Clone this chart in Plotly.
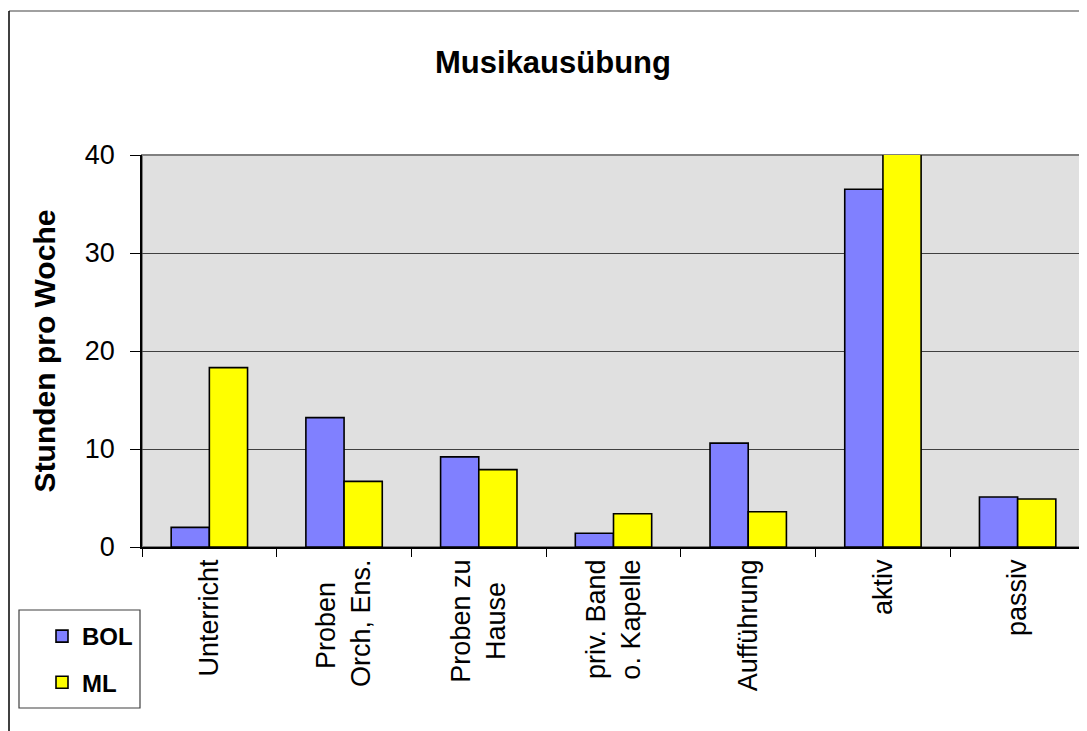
import plotly.graph_objects as go

categories = ["Unterricht", "Proben<br>Orch, Ens.", "Proben zu<br>Hause",
              "priv. Band<br>o. Kapelle", "Aufführung", "aktiv", "passiv"]
bol_values = [2.0, 13.2, 9.2, 1.4, 10.6, 36.5, 5.1]
ml_values = [18.3, 6.7, 7.9, 3.4, 3.6, 40.2, 4.9]
y_ticks = [0, 10, 20, 30, 40]

FONT = "Arial, Liberation Sans, sans-serif"

# The page body has an 8px margin; lay out in page coordinates.
OFF = 8
W, H = 1087 - OFF, 731 - OFF
ML_, MR, MT, MB = 142 - OFF, 2, 155 - OFF, 184
PW, PH = W - ML_ - MR, H - MT - MB


def px(x):
    """page x -> paper x"""
    return (x - OFF - ML_) / PW


def py(y):
    """page y -> paper y"""
    return (H - MB - (y - OFF)) / PH


# centre the shorter line of two-line rotated labels (labels anchor at their end)
line_pad = {"Proben": 3, "Hause": 3}


def centred(label):
    lines = label.split("<br>")
    return "<br>".join(l + "\u00a0" * line_pad.get(l, 0) for l in lines)


tick_text = [centred(c) for c in categories]

fig = go.Figure()
fig.add_trace(go.Bar(name="<b>BOL</b>", x=categories, y=bol_values, legendgroup="a",
                     marker=dict(color="#8080FF", line=dict(color="#000000", width=1.6)),
                     cliponaxis=False))
fig.add_trace(go.Bar(name="<b>ML</b>", x=categories, y=ml_values, legendgroup="b",
                     marker=dict(color="#FFFF00", line=dict(color="#000000", width=1.6)),
                     cliponaxis=False))

shapes = [
    dict(type="rect", xref="paper", yref="paper", x0=0, x1=1, y0=0, y1=1,
         line=dict(color="#808080", width=2), layer="below"),
    dict(type="line", xref="paper", yref="paper", x0=px(9), x1=px(1095), y0=py(11), y1=py(11),
         line=dict(color="#808080", width=1.5)),
    dict(type="line", xref="paper", yref="paper", x0=px(9), x1=px(9), y0=py(11), y1=py(740),
         line=dict(color="#000000", width=1.5)),
    dict(type="rect", xref="paper", yref="paper", x0=px(19), x1=px(140), y0=py(708), y1=py(610),
         line=dict(color="#404040", width=1.2), fillcolor="rgba(0,0,0,0)"),
]

fig.update_layout(
    width=W, height=H,
    margin=dict(l=ML_, r=MR, t=MT, b=MB, pad=0),
    paper_bgcolor="#FFFFFF",
    plot_bgcolor="#E0E0E0",
    barmode="group",
    bargap=0.433,
    bargroupgap=0,
    font=dict(family=FONT, color="#000000"),
    title=dict(text="<b>Musikausübung</b>", x=(553 - OFF) / W, xanchor="center",
               y=1 - (62 - OFF) / H, yanchor="middle", yref="container",
               font=dict(family=FONT, size=31, color="#000000")),
    xaxis=dict(
        tickangle=-90,
        tickmode="array", tickvals=categories, ticktext=tick_text,
        tickfont=dict(family=FONT, size=27, color="#000000"),
        showline=True, linecolor="#000000", linewidth=1.5,
        ticks="outside", ticklen=8, tickcolor="#000000", tickwidth=1,
        tickson="boundaries",
        showgrid=False,
    ),
    yaxis=dict(
        range=[0, 40],
        tickvals=y_ticks,
        tickfont=dict(family=FONT, size=27, color="#000000"),
        showline=True, linecolor="#000000", linewidth=1.5,
        ticks="outside", ticklen=10, tickcolor="#000000", tickwidth=1,
        ticklabelstandoff=10,
        showgrid=True, gridcolor="#404040", gridwidth=1,
        zeroline=False,
        title=dict(text="<b>Stunden pro Woche</b>", standoff=20,
                   font=dict(family=FONT, size=30, color="#000000")),
    ),
    legend=dict(
        x=px(42), xanchor="left", y=py(614), yanchor="top",
        bgcolor="rgba(0,0,0,0)", borderwidth=0,
        font=dict(family=FONT, size=24, color="#000000"),
        traceorder="grouped", tracegroupgap=12,
        itemclick=False,
    ),
    showlegend=True,
    shapes=shapes,
)

fig.write_html("out.html")
